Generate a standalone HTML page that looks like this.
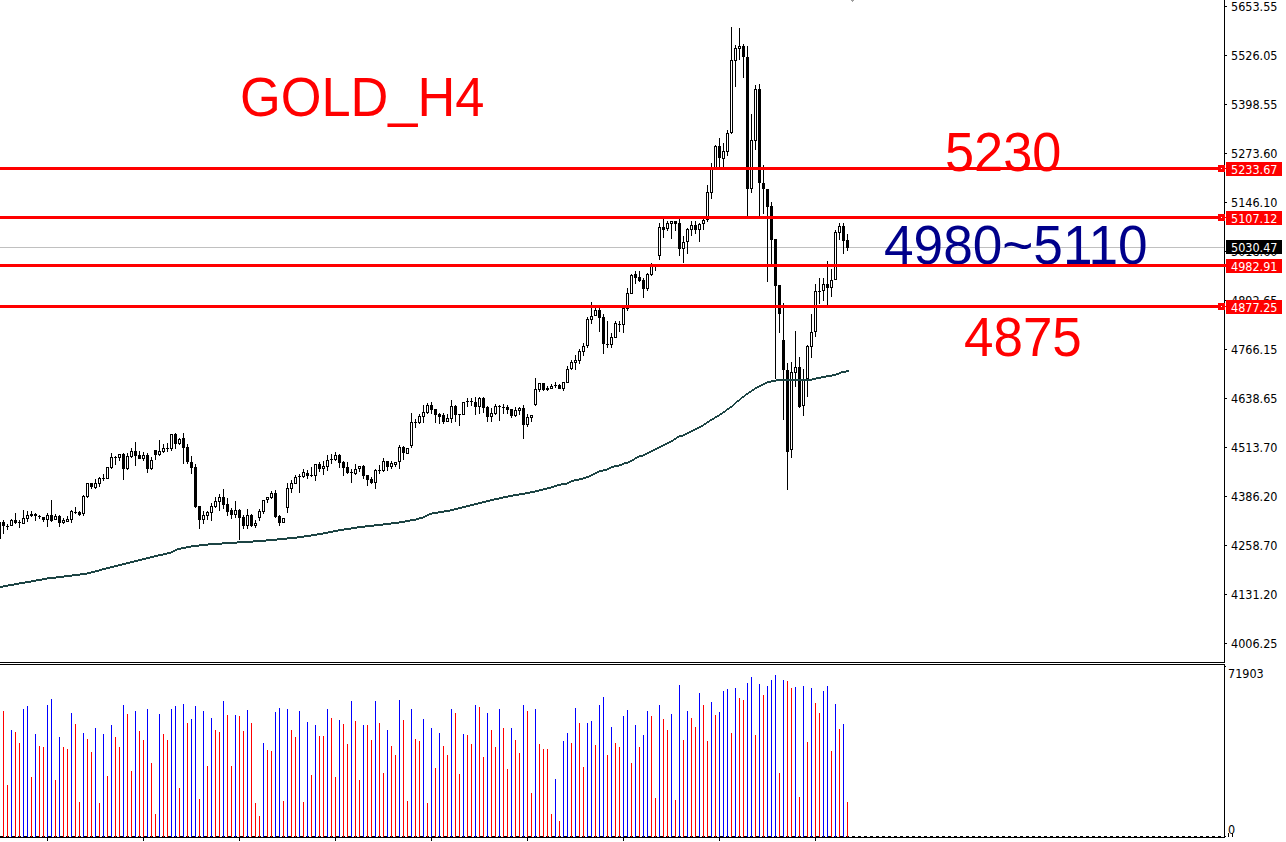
<!DOCTYPE html>
<html lang="en"><head><meta charset="utf-8"><title>GOLD_H4</title>
<style>
html,body{margin:0;padding:0;background:#fff}
#c{position:relative;width:1286px;height:842px;overflow:hidden;background:#fff}
#c svg{position:absolute;left:0;top:0}
.a{position:absolute;left:1226px;width:60px;height:14px;line-height:16px;font-family:"DejaVu Sans Condensed","Liberation Sans",sans-serif;font-size:12.5px;color:#000;white-space:nowrap;text-indent:5px;letter-spacing:0}
.b{width:56px;color:#fff}
.r{background:#f00}
.k{background:#000}
.t{position:absolute;font-family:"Liberation Sans",sans-serif;font-size:55.4px;line-height:64px;height:64px;color:#f00;white-space:nowrap;transform-origin:0 0}
.n{color:#00008b}
</style></head><body><div id="c">
<svg width="1286" height="842" viewBox="0 0 1286 842" shape-rendering="crispEdges">
<path fill="#a0a0a0" d="M851 0h3v1h-3zM852 1h1v1h-1z"/>
<rect x="0" y="247" width="1224" height="1" fill="#c0c0c0"/>
<path fill="#000" d="M0 522h1v17h-1zM3 520h1v14h-1zM2 522h3v4h-3zM7 524h1v6h-1zM6 526h3v1h-3zM11 519h1v7h-1zM10 520h3v6h-3zM15 513h1v11h-1zM14 520h3v3h-3zM19 520h1v8h-1zM18 522h3v1h-3zM23 510h1v14h-1zM22 518h3v6h-3zM27 511h1v11h-1zM26 515h3v4h-3zM31 511h1v6h-1zM30 514h3v2h-3zM35 513h1v8h-1zM34 514h3v2h-3zM39 515h1v4h-1zM38 516h3v1h-3zM43 517h1v5h-1zM42 517h3v3h-3zM47 513h1v14h-1zM46 515h3v5h-3zM51 500h1v22h-1zM50 515h3v6h-3zM55 514h1v6h-1zM54 516h3v4h-3zM59 515h1v12h-1zM58 516h3v7h-3zM63 518h1v6h-1zM62 520h3v3h-3zM67 516h1v6h-1zM66 519h3v3h-3zM71 510h1v13h-1zM70 511h3v9h-3zM75 507h1v7h-1zM74 512h3v1h-3zM79 511h1v5h-1zM78 512h3v3h-3zM83 495h1v21h-1zM82 496h3v18h-3zM87 483h1v15h-1zM86 483h3v14h-3zM91 483h1v6h-1zM90 483h3v4h-3zM95 479h1v10h-1zM94 483h3v5h-3zM99 477h1v10h-1zM98 478h3v6h-3zM103 474h1v7h-1zM102 478h3v1h-3zM107 467h1v12h-1zM106 467h3v12h-3zM111 453h1v16h-1zM110 457h3v11h-3zM115 456h1v9h-1zM114 457h3v1h-3zM119 454h1v7h-1zM118 454h3v4h-3zM123 453h1v27h-1zM122 454h3v15h-3zM127 453h1v17h-1zM126 456h3v13h-3zM131 448h1v10h-1zM130 451h3v6h-3zM135 442h1v24h-1zM134 451h3v5h-3zM139 451h1v8h-1zM138 455h3v4h-3zM143 452h1v9h-1zM142 455h3v4h-3zM147 453h1v20h-1zM146 455h3v14h-3zM151 457h1v13h-1zM150 460h3v9h-3zM155 450h1v10h-1zM154 450h3v5h-3zM159 440h1v16h-1zM158 451h3v4h-3zM163 444h1v9h-1zM162 448h3v4h-3zM167 443h1v9h-1zM166 448h3v1h-3zM171 434h1v17h-1zM170 434h3v15h-3zM175 433h1v16h-1zM174 434h3v10h-3zM179 438h1v7h-1zM178 439h3v5h-3zM183 433h1v31h-1zM182 438h3v10h-3zM187 444h1v20h-1zM186 447h3v15h-3zM191 456h1v18h-1zM190 462h3v6h-3zM195 464h1v44h-1zM194 467h3v40h-3zM199 506h1v23h-1zM198 506h3v14h-3zM203 511h1v13h-1zM202 515h3v5h-3zM207 511h1v9h-1zM206 512h3v4h-3zM211 503h1v18h-1zM210 506h3v7h-3zM215 497h1v11h-1zM214 501h3v6h-3zM219 494h1v17h-1zM218 497h3v5h-3zM223 489h1v20h-1zM222 497h3v8h-3zM227 498h1v18h-1zM226 504h3v8h-3zM231 508h1v11h-1zM230 510h3v5h-3zM235 501h1v17h-1zM234 510h3v5h-3zM239 509h1v31h-1zM238 510h3v8h-3zM243 515h1v14h-1zM242 517h3v9h-3zM247 509h1v20h-1zM246 515h3v11h-3zM251 514h1v13h-1zM250 515h3v11h-3zM255 520h1v8h-1zM254 523h3v3h-3zM259 509h1v12h-1zM258 511h3v7h-3zM263 500h1v14h-1zM262 500h3v12h-3zM267 497h1v6h-1zM266 497h3v3h-3zM271 491h1v8h-1zM270 493h3v5h-3zM275 490h1v28h-1zM274 493h3v24h-3zM279 515h1v11h-1zM278 516h3v7h-3zM283 518h1v5h-1zM282 518h3v5h-3zM287 483h1v30h-1zM286 488h3v20h-3zM291 480h1v13h-1zM290 483h3v6h-3zM295 475h1v9h-1zM294 477h3v7h-3zM299 474h1v19h-1zM298 476h3v1h-3zM303 469h1v9h-1zM302 472h3v5h-3zM307 470h1v9h-1zM306 473h3v3h-3zM311 467h1v10h-1zM310 475h3v1h-3zM315 464h1v17h-1zM314 464h3v12h-3zM319 462h1v10h-1zM318 464h3v5h-3zM323 461h1v14h-1zM322 466h3v3h-3zM327 455h1v16h-1zM326 460h3v7h-3zM331 454h1v10h-1zM330 459h3v1h-3zM335 452h1v9h-1zM334 455h3v5h-3zM339 454h1v14h-1zM338 455h3v8h-3zM343 461h1v15h-1zM342 462h3v6h-3zM347 462h1v12h-1zM346 467h3v6h-3zM351 469h1v14h-1zM350 472h3v1h-3zM355 464h1v11h-1zM354 469h3v5h-3zM359 466h1v6h-1zM358 466h3v3h-3zM363 465h1v14h-1zM362 466h3v10h-3zM367 475h1v11h-1zM366 475h3v5h-3zM371 477h1v7h-1zM370 479h3v4h-3zM375 469h1v20h-1zM374 470h3v13h-3zM379 465h1v9h-1zM378 470h3v1h-3zM383 458h1v14h-1zM382 461h3v10h-3zM387 461h1v10h-1zM386 461h3v6h-3zM391 461h1v8h-1zM390 463h3v4h-3zM395 462h1v5h-1zM394 462h3v3h-3zM399 445h1v24h-1zM398 447h3v15h-3zM403 446h1v14h-1zM402 447h3v6h-3zM407 448h1v6h-1zM406 448h3v6h-3zM411 413h1v35h-1zM410 422h3v24h-3zM415 419h1v9h-1zM414 422h3v1h-3zM419 414h1v10h-1zM418 416h3v7h-3zM423 405h1v18h-1zM422 412h3v5h-3zM427 403h1v11h-1zM426 405h3v8h-3zM431 402h1v12h-1zM430 405h3v5h-3zM435 409h1v14h-1zM434 409h3v6h-3zM439 413h1v11h-1zM438 414h3v3h-3zM443 413h1v11h-1zM442 415h3v7h-3zM447 414h1v8h-1zM446 418h3v4h-3zM451 400h1v23h-1zM450 406h3v13h-3zM455 405h1v17h-1zM454 406h3v9h-3zM459 414h1v12h-1zM458 414h3v1h-3zM463 402h1v13h-1zM462 402h3v13h-3zM467 398h1v9h-1zM466 401h3v1h-3zM471 398h1v8h-1zM470 401h3v1h-3zM475 397h1v18h-1zM474 402h3v5h-3zM479 397h1v17h-1zM478 398h3v9h-3zM483 397h1v16h-1zM482 398h3v10h-3zM487 406h1v16h-1zM486 407h3v10h-3zM491 408h1v14h-1zM490 413h3v4h-3zM495 404h1v11h-1zM494 406h3v8h-3zM499 405h1v16h-1zM498 406h3v1h-3zM503 404h1v10h-1zM502 407h3v1h-3zM507 405h1v9h-1zM506 407h3v3h-3zM511 409h1v9h-1zM510 409h3v7h-3zM515 407h1v10h-1zM514 410h3v6h-3zM519 407h1v8h-1zM518 408h3v3h-3zM523 405h1v34h-1zM522 408h3v17h-3zM527 414h1v13h-1zM526 417h3v8h-3zM531 415h1v7h-1zM530 415h3v3h-3zM535 378h1v28h-1zM534 389h3v16h-3zM539 383h1v9h-1zM538 383h3v7h-3zM543 383h1v8h-1zM542 383h3v7h-3zM547 386h1v5h-1zM546 388h3v2h-3zM551 384h1v5h-1zM550 386h3v3h-3zM555 382h1v6h-1zM554 385h3v1h-3zM559 384h1v5h-1zM558 385h3v4h-3zM563 382h1v9h-1zM562 382h3v7h-3zM567 366h1v17h-1zM566 369h3v14h-3zM571 360h1v10h-1zM570 362h3v7h-3zM575 355h1v15h-1zM574 360h3v3h-3zM579 349h1v15h-1zM578 351h3v10h-3zM583 343h1v13h-1zM582 346h3v6h-3zM587 317h1v31h-1zM586 319h3v27h-3zM591 302h1v22h-1zM590 316h3v4h-3zM595 308h1v8h-1zM594 310h3v6h-3zM599 308h1v24h-1zM598 310h3v8h-3zM603 314h1v40h-1zM602 317h3v27h-3zM607 321h1v27h-1zM606 344h3v1h-3zM611 333h1v15h-1zM610 337h3v8h-3zM615 321h1v17h-1zM614 323h3v15h-3zM619 321h1v11h-1zM618 324h3v1h-3zM623 307h1v26h-1zM622 308h3v17h-3zM627 288h1v23h-1zM626 293h3v16h-3zM631 274h1v20h-1zM630 275h3v19h-3zM635 271h1v13h-1zM634 274h3v4h-3zM639 271h1v11h-1zM638 277h3v4h-3zM643 278h1v20h-1zM642 280h3v9h-3zM647 273h1v18h-1zM646 274h3v15h-3zM651 263h1v13h-1zM650 266h3v9h-3zM655 264h1v7h-1zM654 264h3v3h-3zM659 223h1v37h-1zM658 227h3v29h-3zM663 219h1v19h-1zM662 227h3v3h-3zM667 221h1v10h-1zM666 223h3v6h-3zM671 221h1v18h-1zM670 221h3v3h-3zM675 221h1v10h-1zM674 221h3v3h-3zM679 219h1v37h-1zM678 223h3v26h-3zM683 236h1v27h-1zM682 242h3v7h-3zM687 228h1v26h-1zM686 229h3v13h-3zM691 221h1v15h-1zM690 225h3v5h-3zM695 221h1v13h-1zM694 225h3v5h-3zM699 223h1v19h-1zM698 224h3v6h-3zM703 219h1v11h-1zM702 220h3v4h-3zM707 185h1v37h-1zM706 192h3v28h-3zM711 163h1v36h-1zM710 168h3v25h-3zM715 145h1v23h-1zM714 146h3v22h-3zM719 138h1v30h-1zM718 146h3v12h-3zM723 143h1v24h-1zM722 151h3v8h-3zM727 130h1v26h-1zM726 133h3v19h-3zM731 27h1v107h-1zM730 60h3v73h-3zM735 45h1v42h-1zM734 48h3v13h-3zM739 28h1v32h-1zM738 46h3v3h-3zM743 44h1v34h-1zM742 46h3v11h-3zM747 46h1v170h-1zM746 57h3v132h-3zM751 114h1v79h-1zM750 140h3v49h-3zM755 85h1v65h-1zM754 89h3v52h-3zM759 84h1v132h-1zM758 89h3v94h-3zM763 165h1v49h-1zM762 183h3v6h-3zM767 189h1v93h-1zM766 189h3v18h-3zM771 202h1v63h-1zM770 206h3v34h-3zM775 239h1v140h-1zM774 239h3v47h-3zM779 285h1v48h-1zM778 285h3v29h-3zM783 303h1v117h-1zM782 340h3v30h-3zM787 363h1v127h-1zM786 370h3v82h-3zM791 362h1v96h-1zM790 372h3v78h-3zM795 331h1v56h-1zM794 367h3v6h-3zM799 357h1v51h-1zM798 367h3v40h-3zM803 369h1v47h-1zM802 380h3v26h-3zM807 345h1v52h-1zM806 346h3v33h-3zM811 314h1v44h-1zM810 332h3v15h-3zM815 284h1v53h-1zM814 291h3v41h-3zM819 278h1v26h-1zM818 291h3v1h-3zM823 278h1v23h-1zM822 284h3v7h-3zM827 261h1v44h-1zM826 284h3v4h-3zM831 269h1v28h-1zM830 280h3v8h-3zM835 230h1v50h-1zM834 232h3v48h-3zM839 223h1v17h-1zM838 226h3v7h-3zM843 223h1v31h-1zM842 226h3v15h-3zM847 234h1v17h-1zM846 240h3v8h-3z"/>
<path fill="#fff" d="M11 521h1v4h-1zM23 519h1v4h-1zM27 516h1v2h-1zM47 516h1v3h-1zM55 517h1v2h-1zM63 521h1v1h-1zM67 520h1v1h-1zM71 512h1v7h-1zM83 497h1v16h-1zM87 484h1v12h-1zM95 484h1v3h-1zM99 479h1v4h-1zM107 468h1v10h-1zM111 458h1v9h-1zM119 455h1v2h-1zM127 457h1v11h-1zM131 452h1v4h-1zM143 456h1v2h-1zM151 461h1v7h-1zM159 452h1v2h-1zM163 449h1v2h-1zM171 435h1v13h-1zM179 440h1v3h-1zM203 516h1v3h-1zM207 513h1v2h-1zM211 507h1v5h-1zM215 502h1v4h-1zM219 498h1v3h-1zM235 511h1v3h-1zM247 516h1v9h-1zM255 524h1v1h-1zM259 512h1v5h-1zM263 501h1v10h-1zM267 498h1v1h-1zM271 494h1v3h-1zM283 519h1v3h-1zM287 489h1v18h-1zM291 484h1v4h-1zM295 478h1v5h-1zM303 473h1v3h-1zM315 465h1v10h-1zM323 467h1v1h-1zM327 461h1v5h-1zM335 456h1v3h-1zM355 470h1v3h-1zM359 467h1v1h-1zM375 471h1v11h-1zM383 462h1v8h-1zM391 464h1v2h-1zM395 463h1v1h-1zM399 448h1v13h-1zM407 449h1v4h-1zM411 423h1v22h-1zM419 417h1v5h-1zM423 413h1v3h-1zM427 406h1v6h-1zM447 419h1v2h-1zM451 407h1v11h-1zM463 403h1v11h-1zM479 399h1v7h-1zM491 414h1v2h-1zM495 407h1v6h-1zM515 411h1v4h-1zM519 409h1v1h-1zM527 418h1v6h-1zM531 416h1v1h-1zM535 390h1v14h-1zM539 384h1v5h-1zM551 387h1v1h-1zM563 383h1v5h-1zM567 370h1v12h-1zM571 363h1v5h-1zM575 361h1v1h-1zM579 352h1v8h-1zM583 347h1v4h-1zM587 320h1v25h-1zM591 317h1v2h-1zM595 311h1v4h-1zM611 338h1v6h-1zM615 324h1v13h-1zM623 309h1v15h-1zM627 294h1v14h-1zM631 276h1v17h-1zM647 275h1v13h-1zM651 267h1v7h-1zM659 228h1v27h-1zM667 224h1v4h-1zM671 222h1v1h-1zM683 243h1v5h-1zM687 230h1v11h-1zM691 226h1v3h-1zM699 225h1v4h-1zM703 221h1v2h-1zM707 193h1v26h-1zM711 169h1v23h-1zM715 147h1v20h-1zM723 152h1v6h-1zM727 134h1v17h-1zM731 61h1v71h-1zM735 49h1v11h-1zM739 47h1v1h-1zM751 141h1v47h-1zM755 90h1v50h-1zM791 373h1v76h-1zM795 368h1v4h-1zM803 381h1v24h-1zM807 347h1v31h-1zM811 333h1v13h-1zM815 292h1v39h-1zM823 285h1v5h-1zM831 281h1v6h-1zM835 233h1v46h-1zM839 227h1v5h-1z"/>
<path fill="#1c4444" d="M0 586h3v2h-3zM3 585h5v2h-5zM8 584h6v2h-6zM14 583h5v2h-5zM19 582h6v2h-6zM25 581h6v2h-6zM31 580h5v2h-5zM36 579h6v2h-6zM42 578h5v2h-5zM47 577h9v2h-9zM56 576h8v2h-8zM64 575h8v2h-8zM72 574h8v2h-8zM80 573h7v2h-7zM87 572h4v2h-4zM91 571h4v2h-4zM95 570h4v2h-4zM99 569h3v2h-3zM102 568h4v2h-4zM106 567h4v2h-4zM110 566h4v2h-4zM114 565h4v2h-4zM118 564h4v2h-4zM122 563h4v2h-4zM126 562h4v2h-4zM130 561h4v2h-4zM134 560h4v2h-4zM138 559h4v2h-4zM142 558h4v2h-4zM146 557h4v2h-4zM150 556h4v2h-4zM154 555h4v2h-4zM158 554h5v2h-5zM163 553h4v2h-4zM167 552h4v2h-4zM171 551h2v2h-2zM173 550h2v2h-2zM175 549h2v2h-2zM177 548h4v2h-4zM181 547h5v2h-5zM186 546h5v2h-5zM191 545h8v2h-8zM199 544h9v2h-9zM208 543h14v2h-14zM222 542h15v2h-15zM237 541h16v2h-16zM253 540h13v2h-13zM266 539h11v2h-11zM277 538h10v2h-10zM287 537h10v2h-10zM297 536h7v2h-7zM304 535h7v2h-7zM311 534h6v2h-6zM317 533h6v2h-6zM323 532h5v2h-5zM328 531h5v2h-5zM333 530h5v2h-5zM338 529h6v2h-6zM344 528h7v2h-7zM351 527h6v2h-6zM357 526h8v2h-8zM365 525h9v2h-9zM374 524h9v2h-9zM383 523h8v2h-8zM391 522h8v2h-8zM399 521h6v2h-6zM405 520h5v2h-5zM410 519h6v2h-6zM416 518h3v2h-3zM419 517h4v2h-4zM423 516h2v2h-2zM425 515h2v2h-2zM427 514h2v2h-2zM429 513h3v2h-3zM432 512h6v2h-6zM438 511h6v2h-6zM444 510h6v2h-6zM450 509h4v2h-4zM454 508h4v2h-4zM458 507h4v2h-4zM462 506h4v2h-4zM466 505h4v2h-4zM470 504h4v2h-4zM474 503h4v2h-4zM478 502h4v2h-4zM482 501h4v2h-4zM486 500h4v2h-4zM490 499h4v2h-4zM494 498h5v2h-5zM499 497h4v2h-4zM503 496h5v2h-5zM508 495h5v2h-5zM513 494h6v2h-6zM519 493h6v2h-6zM525 492h5v2h-5zM530 491h5v2h-5zM535 490h4v2h-4zM539 489h4v2h-4zM543 488h4v2h-4zM547 487h4v2h-4zM551 486h3v2h-3zM554 485h3v2h-3zM557 484h4v2h-4zM561 483h6v2h-6zM567 482h2v2h-2zM569 481h2v2h-2zM571 480h3v2h-3zM574 479h5v2h-5zM579 478h4v2h-4zM583 477h3v2h-3zM586 476h3v2h-3zM589 475h2v2h-2zM591 474h2v2h-2zM593 473h2v2h-2zM595 472h2v2h-2zM597 471h2v2h-2zM599 470h4v2h-4zM603 469h4v2h-4zM607 468h2v2h-2zM609 467h2v2h-2zM611 466h3v2h-3zM614 465h5v2h-5zM619 464h3v2h-3zM622 463h2v2h-2zM624 462h4v2h-4zM628 461h2v2h-2zM630 460h2v2h-2zM632 459h2v2h-2zM634 458h1v2h-1zM635 457h2v2h-2zM637 456h2v2h-2zM639 455h4v2h-4zM643 454h2v2h-2zM645 453h2v2h-2zM647 452h2v2h-2zM649 451h2v2h-2zM651 450h2v2h-2zM653 449h2v2h-2zM655 448h2v2h-2zM657 447h2v2h-2zM659 446h2v2h-2zM661 445h2v2h-2zM663 444h2v2h-2zM665 443h2v2h-2zM667 442h2v2h-2zM669 441h2v2h-2zM671 440h2v2h-2zM673 439h1v2h-1zM674 438h2v2h-2zM676 437h1v2h-1zM677 436h2v2h-2zM679 435h4v2h-4zM683 434h2v2h-2zM685 433h2v2h-2zM687 432h2v2h-2zM689 431h2v2h-2zM691 430h2v2h-2zM693 429h2v2h-2zM695 428h2v2h-2zM697 427h2v2h-2zM699 426h2v2h-2zM701 425h2v2h-2zM703 424h1v2h-1zM704 423h2v2h-2zM706 422h1v2h-1zM707 421h2v2h-2zM709 420h1v2h-1zM710 419h2v2h-2zM712 418h2v2h-2zM714 417h1v2h-1zM715 416h2v2h-2zM717 415h2v2h-2zM719 414h1v2h-1zM720 413h2v2h-2zM722 412h1v2h-1zM723 411h2v2h-2zM725 410h1v2h-1zM726 409h1v2h-1zM727 408h2v2h-2zM729 407h1v2h-1zM730 406h2v2h-2zM732 405h1v2h-1zM733 404h1v2h-1zM734 403h1v2h-1zM735 402h1v2h-1zM736 401h1v2h-1zM737 400h2v2h-2zM739 399h1v2h-1zM740 398h1v2h-1zM741 397h1v2h-1zM742 396h2v2h-2zM744 395h1v2h-1zM745 394h1v2h-1zM746 393h2v2h-2zM748 392h1v2h-1zM749 391h2v2h-2zM751 390h1v2h-1zM752 389h2v2h-2zM754 388h1v2h-1zM755 387h2v2h-2zM757 386h2v2h-2zM759 385h2v2h-2zM761 384h2v2h-2zM763 383h2v2h-2zM765 382h2v2h-2zM767 381h4v2h-4zM771 380h5v2h-5zM776 379h36v2h-36zM812 378h4v2h-4zM816 377h5v2h-5zM821 376h5v2h-5zM826 375h6v2h-6zM832 374h4v2h-4zM836 373h3v2h-3zM839 372h2v2h-2zM841 371h5v2h-5zM846 370h3v2h-3z"/>
</svg>
<div class="t" style="left:240px;top:64.8px;transform:scaleX(0.945)">GOLD_H4</div>
<div class="t" style="left:944.5px;top:119.8px;transform:scaleX(0.9436)">5230</div>
<div class="t n" style="left:883.5px;top:212.8px;transform:scaleX(0.96)">4980~5110</div>
<div class="t" style="left:964px;top:304.8px;transform:scaleX(0.956)">4875</div>
<svg width="1286" height="842" viewBox="0 0 1286 842" shape-rendering="crispEdges">
<rect x="0" y="167" width="1224" height="3" fill="#f00"/>
<rect x="0" y="216" width="1224" height="3" fill="#f00"/>
<rect x="0" y="264" width="1224" height="3" fill="#f00"/>
<rect x="0" y="305" width="1224" height="3" fill="#f00"/>
<path fill="#000" d="M1224 0h1v663h-1zM1224 664h1v174h-1zM0 662h1225v1h-1225zM0 664h1225v1h-1225zM0 837h1225v1h-1225zM1225 6h2v1h-2zM1225 55h2v1h-2zM1225 104h2v1h-2zM1225 153h2v1h-2zM1225 202h2v1h-2zM1225 251h2v1h-2zM1225 300h2v1h-2zM1225 349h2v1h-2zM1225 398h2v1h-2zM1225 447h2v1h-2zM1225 496h2v1h-2zM1225 545h2v1h-2zM1225 594h2v1h-2zM1225 643h2v1h-2zM1225 666h1v1h-1zM1225 836h1v1h-1zM1228 833h1v4h-1zM1232 833h1v4h-1zM0 836h3v1h-3zM6 836h3v1h-3zM12 836h3v1h-3zM18 836h3v1h-3zM24 836h3v1h-3zM30 836h3v1h-3zM36 836h3v1h-3zM42 836h3v1h-3zM48 836h3v1h-3zM54 836h3v1h-3zM60 836h3v1h-3zM66 836h3v1h-3zM72 836h3v1h-3zM78 836h3v1h-3zM84 836h3v1h-3zM90 836h3v1h-3zM96 836h3v1h-3zM102 836h3v1h-3zM108 836h3v1h-3zM114 836h3v1h-3zM120 836h3v1h-3zM126 836h3v1h-3zM132 836h3v1h-3zM138 836h3v1h-3zM144 836h3v1h-3zM150 836h3v1h-3zM156 836h3v1h-3zM162 836h3v1h-3zM168 836h3v1h-3zM174 836h3v1h-3zM180 836h3v1h-3zM186 836h3v1h-3zM192 836h3v1h-3zM198 836h3v1h-3zM204 836h3v1h-3zM210 836h3v1h-3zM216 836h3v1h-3zM222 836h3v1h-3zM228 836h3v1h-3zM234 836h3v1h-3zM240 836h3v1h-3zM246 836h3v1h-3zM252 836h3v1h-3zM258 836h3v1h-3zM264 836h3v1h-3zM270 836h3v1h-3zM276 836h3v1h-3zM282 836h3v1h-3zM288 836h3v1h-3zM294 836h3v1h-3zM300 836h3v1h-3zM306 836h3v1h-3zM312 836h3v1h-3zM318 836h3v1h-3zM324 836h3v1h-3zM330 836h3v1h-3zM336 836h3v1h-3zM342 836h3v1h-3zM348 836h3v1h-3zM354 836h3v1h-3zM360 836h3v1h-3zM366 836h3v1h-3zM372 836h3v1h-3zM378 836h3v1h-3zM384 836h3v1h-3zM390 836h3v1h-3zM396 836h3v1h-3zM402 836h3v1h-3zM408 836h3v1h-3zM414 836h3v1h-3zM420 836h3v1h-3zM426 836h3v1h-3zM432 836h3v1h-3zM438 836h3v1h-3zM444 836h3v1h-3zM450 836h3v1h-3zM456 836h3v1h-3zM462 836h3v1h-3zM468 836h3v1h-3zM474 836h3v1h-3zM480 836h3v1h-3zM486 836h3v1h-3zM492 836h3v1h-3zM498 836h3v1h-3zM504 836h3v1h-3zM510 836h3v1h-3zM516 836h3v1h-3zM522 836h3v1h-3zM528 836h3v1h-3zM534 836h3v1h-3zM540 836h3v1h-3zM546 836h3v1h-3zM552 836h3v1h-3zM558 836h3v1h-3zM564 836h3v1h-3zM570 836h3v1h-3zM576 836h3v1h-3zM582 836h3v1h-3zM588 836h3v1h-3zM594 836h3v1h-3zM600 836h3v1h-3zM606 836h3v1h-3zM612 836h3v1h-3zM618 836h3v1h-3zM624 836h3v1h-3zM630 836h3v1h-3zM636 836h3v1h-3zM642 836h3v1h-3zM648 836h3v1h-3zM654 836h3v1h-3zM660 836h3v1h-3zM666 836h3v1h-3zM672 836h3v1h-3zM678 836h3v1h-3zM684 836h3v1h-3zM690 836h3v1h-3zM696 836h3v1h-3zM702 836h3v1h-3zM708 836h3v1h-3zM714 836h3v1h-3zM720 836h3v1h-3zM726 836h3v1h-3zM732 836h3v1h-3zM738 836h3v1h-3zM744 836h3v1h-3zM750 836h3v1h-3zM756 836h3v1h-3zM762 836h3v1h-3zM768 836h3v1h-3zM774 836h3v1h-3zM780 836h3v1h-3zM786 836h3v1h-3zM792 836h3v1h-3zM798 836h3v1h-3zM804 836h3v1h-3zM810 836h3v1h-3zM816 836h3v1h-3zM822 836h3v1h-3zM828 836h3v1h-3zM834 836h3v1h-3zM840 836h3v1h-3zM846 836h3v1h-3zM852 836h3v1h-3zM858 836h3v1h-3zM864 836h3v1h-3zM870 836h3v1h-3zM876 836h3v1h-3zM882 836h3v1h-3zM888 836h3v1h-3zM894 836h3v1h-3zM900 836h3v1h-3zM906 836h3v1h-3zM912 836h3v1h-3zM918 836h3v1h-3zM924 836h3v1h-3zM930 836h3v1h-3zM936 836h3v1h-3zM942 836h3v1h-3zM948 836h3v1h-3zM954 836h3v1h-3zM960 836h3v1h-3zM966 836h3v1h-3zM972 836h3v1h-3zM978 836h3v1h-3zM984 836h3v1h-3zM990 836h3v1h-3zM996 836h3v1h-3zM1002 836h3v1h-3zM1008 836h3v1h-3zM1014 836h3v1h-3zM1020 836h3v1h-3zM1026 836h3v1h-3zM1032 836h3v1h-3zM1038 836h3v1h-3zM1044 836h3v1h-3zM1050 836h3v1h-3zM1056 836h3v1h-3zM1062 836h3v1h-3zM1068 836h3v1h-3zM1074 836h3v1h-3zM1080 836h3v1h-3zM1086 836h3v1h-3zM1092 836h3v1h-3zM1098 836h3v1h-3zM1104 836h3v1h-3zM1110 836h3v1h-3zM1116 836h3v1h-3zM1122 836h3v1h-3zM1128 836h3v1h-3zM1134 836h3v1h-3zM1140 836h3v1h-3zM1146 836h3v1h-3zM1152 836h3v1h-3zM1158 836h3v1h-3zM1164 836h3v1h-3zM1170 836h3v1h-3zM1176 836h3v1h-3zM1182 836h3v1h-3zM1188 836h3v1h-3zM1194 836h3v1h-3zM1200 836h3v1h-3zM1206 836h3v1h-3zM1212 836h3v1h-3zM1218 836h3v1h-3zM47 838h1v3h-1zM143 838h1v3h-1zM239 838h1v3h-1zM335 838h1v3h-1zM431 838h1v3h-1zM527 838h1v3h-1zM623 838h1v3h-1zM719 838h1v3h-1zM815 838h1v3h-1z"/>
<path fill="#f00" d="M3 711h1v126h-1zM7 785h1v52h-1zM15 732h1v105h-1zM19 743h1v94h-1zM31 777h1v60h-1zM39 746h1v91h-1zM43 747h1v90h-1zM55 780h1v57h-1zM63 747h1v90h-1zM67 749h1v88h-1zM75 724h1v113h-1zM79 802h1v35h-1zM87 739h1v98h-1zM91 752h1v85h-1zM99 803h1v34h-1zM107 776h1v61h-1zM115 737h1v100h-1zM119 747h1v90h-1zM127 714h1v123h-1zM131 771h1v66h-1zM139 731h1v106h-1zM143 740h1v97h-1zM151 763h1v74h-1zM155 814h1v23h-1zM163 734h1v103h-1zM167 740h1v97h-1zM179 788h1v49h-1zM187 723h1v114h-1zM199 799h1v38h-1zM207 766h1v71h-1zM215 730h1v107h-1zM219 732h1v105h-1zM227 715h1v122h-1zM231 766h1v71h-1zM239 716h1v121h-1zM243 731h1v106h-1zM251 723h1v114h-1zM255 803h1v34h-1zM259 816h1v21h-1zM267 750h1v87h-1zM271 751h1v86h-1zM283 801h1v36h-1zM291 730h1v107h-1zM295 737h1v100h-1zM303 802h1v35h-1zM311 775h1v62h-1zM319 736h1v101h-1zM323 736h1v101h-1zM331 718h1v119h-1zM335 777h1v60h-1zM343 724h1v113h-1zM347 744h1v93h-1zM355 721h1v116h-1zM359 780h1v57h-1zM367 725h1v112h-1zM371 740h1v97h-1zM379 723h1v114h-1zM383 773h1v64h-1zM391 746h1v91h-1zM395 755h1v82h-1zM403 720h1v117h-1zM407 801h1v36h-1zM415 739h1v98h-1zM419 741h1v96h-1zM427 803h1v34h-1zM435 768h1v69h-1zM443 746h1v91h-1zM447 755h1v82h-1zM455 713h1v124h-1zM459 774h1v63h-1zM467 735h1v102h-1zM471 744h1v93h-1zM479 707h1v130h-1zM483 757h1v80h-1zM491 730h1v107h-1zM495 747h1v90h-1zM503 728h1v109h-1zM507 769h1v68h-1zM515 740h1v97h-1zM519 753h1v84h-1zM527 711h1v126h-1zM531 793h1v44h-1zM539 744h1v93h-1zM543 749h1v88h-1zM547 749h1v88h-1zM551 814h1v23h-1zM559 821h1v16h-1zM571 743h1v94h-1zM579 723h1v114h-1zM583 767h1v70h-1zM595 745h1v92h-1zM607 755h1v82h-1zM615 743h1v94h-1zM619 747h1v90h-1zM631 763h1v74h-1zM639 747h1v90h-1zM651 716h1v121h-1zM655 798h1v39h-1zM663 719h1v118h-1zM667 730h1v107h-1zM675 800h1v37h-1zM683 740h1v97h-1zM691 718h1v119h-1zM695 727h1v110h-1zM703 705h1v132h-1zM707 741h1v96h-1zM715 715h1v122h-1zM731 733h1v104h-1zM739 698h1v139h-1zM743 700h1v137h-1zM755 735h1v102h-1zM763 695h1v142h-1zM779 773h1v64h-1zM787 681h1v156h-1zM791 688h1v149h-1zM799 797h1v40h-1zM807 742h1v95h-1zM815 703h1v134h-1zM819 713h1v124h-1zM831 751h1v86h-1zM839 729h1v108h-1zM847 802h1v35h-1z"/>
<path fill="#00f" d="M11 730h1v107h-1zM23 709h1v128h-1zM27 706h1v131h-1zM35 734h1v103h-1zM47 705h1v132h-1zM51 699h1v138h-1zM59 737h1v100h-1zM71 713h1v124h-1zM83 733h1v104h-1zM95 728h1v109h-1zM103 734h1v103h-1zM111 725h1v112h-1zM123 705h1v132h-1zM135 711h1v126h-1zM147 709h1v128h-1zM159 714h1v123h-1zM171 709h1v128h-1zM175 706h1v131h-1zM183 704h1v133h-1zM191 719h1v118h-1zM195 706h1v131h-1zM203 711h1v126h-1zM211 718h1v119h-1zM223 701h1v136h-1zM235 715h1v122h-1zM247 710h1v127h-1zM263 743h1v94h-1zM275 712h1v125h-1zM279 708h1v129h-1zM287 709h1v128h-1zM299 711h1v126h-1zM307 722h1v115h-1zM315 725h1v112h-1zM327 709h1v128h-1zM339 720h1v117h-1zM351 701h1v136h-1zM363 725h1v112h-1zM375 701h1v136h-1zM387 730h1v107h-1zM399 700h1v137h-1zM411 709h1v128h-1zM423 719h1v118h-1zM431 728h1v109h-1zM439 733h1v104h-1zM451 709h1v128h-1zM463 734h1v103h-1zM475 705h1v132h-1zM487 713h1v124h-1zM499 709h1v128h-1zM511 728h1v109h-1zM523 705h1v132h-1zM535 709h1v128h-1zM555 779h1v58h-1zM563 741h1v96h-1zM567 733h1v104h-1zM575 708h1v129h-1zM587 723h1v114h-1zM591 721h1v116h-1zM599 705h1v132h-1zM603 697h1v140h-1zM611 727h1v110h-1zM623 716h1v121h-1zM627 710h1v127h-1zM635 725h1v112h-1zM643 735h1v102h-1zM647 711h1v126h-1zM659 705h1v132h-1zM671 714h1v123h-1zM679 685h1v152h-1zM687 711h1v126h-1zM699 693h1v144h-1zM711 702h1v135h-1zM719 712h1v125h-1zM723 691h1v146h-1zM727 689h1v148h-1zM735 688h1v149h-1zM747 683h1v154h-1zM751 677h1v160h-1zM759 684h1v153h-1zM767 686h1v151h-1zM771 680h1v157h-1zM775 675h1v162h-1zM783 680h1v157h-1zM795 687h1v150h-1zM803 686h1v151h-1zM811 688h1v149h-1zM823 691h1v146h-1zM827 686h1v151h-1zM835 704h1v133h-1zM843 724h1v113h-1z"/>
<rect x="1218" y="165" width="7" height="7" fill="#f00"/><rect x="1221" y="168" width="1" height="1" fill="#fff"/>
<rect x="1218" y="214" width="7" height="7" fill="#f00"/><rect x="1221" y="217" width="1" height="1" fill="#fff"/>
<rect x="1218" y="303" width="7" height="7" fill="#f00"/><rect x="1221" y="306" width="1" height="1" fill="#fff"/>
<rect x="1224" y="264" width="2" height="3" fill="#f00"/>
<rect x="1225" y="168" width="1" height="1" fill="#f00"/>
<rect x="1225" y="217" width="1" height="1" fill="#f00"/>
<rect x="1225" y="306" width="1" height="1" fill="#f00"/>
</svg>
<div class="a" style="top:-1px">5653.55</div>
<div class="a" style="top:48px">5526.05</div>
<div class="a" style="top:97px">5398.55</div>
<div class="a" style="top:146px">5273.60</div>
<div class="a" style="top:195px">5146.10</div>
<div class="a" style="top:244px">5018.60</div>
<div class="a" style="top:293px">4892.65</div>
<div class="a" style="top:342px">4766.15</div>
<div class="a" style="top:391px">4638.65</div>
<div class="a" style="top:440px">4513.70</div>
<div class="a" style="top:489px">4386.20</div>
<div class="a" style="top:538px">4258.70</div>
<div class="a" style="top:587px">4131.20</div>
<div class="a" style="top:636px">4006.25</div>
<div class="a" style="top:666px;text-indent:2px">71903</div>
<div class="a" style="top:822px;text-indent:2px">0</div>
<div class="a b r" style="top:162px">5233.67</div>
<div class="a b r" style="top:211px">5107.12</div>
<div class="a b r" style="top:259px">4982.91</div>
<div class="a b r" style="top:300px">4877.25</div>
<div class="a b k" style="top:240px">5030.47</div>
</div></body></html>
